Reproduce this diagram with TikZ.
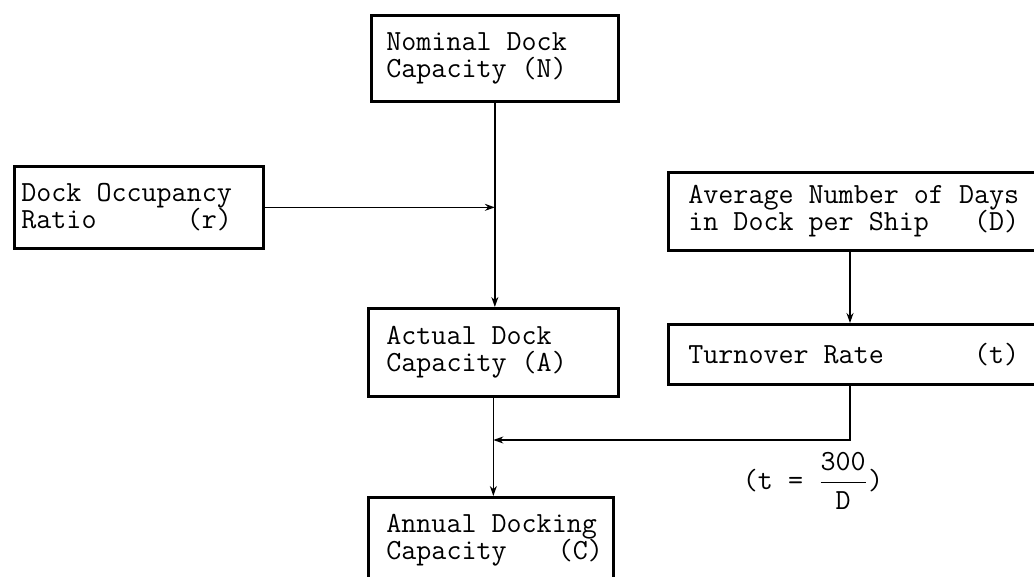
\documentclass[tikz,border=0pt]{standalone}
\usepackage{amsmath}
\usepackage{fontspec}
\setmonofont{Latin Modern Mono}[WordSpace={1,0,0}]
\usetikzlibrary{arrows.meta}

\newcommand{\typed}{\fontsize{14.6}{13.5}\selectfont\ttfamily}
\newcommand{\gap}{\kern\fontcharwd\font`M\relax}
\newcommand{\tagrow}[3]{\makebox[#1\fontcharwd\font`M][l]{#2\hfill#3}}
\tikzstyle{capbox}=[shape=rectangle, draw, line width=1.35pt, anchor=north west, align=left, inner ysep=0pt, font=\typed]
\tikzstyle{flow}=[line width=0.75pt, -{Stealth[length=5pt,width=3.5pt]}]

\begin{document}
\begin{tikzpicture}[x=0.5pt,y=-0.5pt]
        \path[use as bounding box, clip] (0,0) rectangle (1034,577);
        \node[capbox, text width=108.5pt, inner xsep=7.5pt, minimum height=43pt] at (370,14) (nominal) {Nominal\gap Dock\\Capacity\gap (N)};
        \node[capbox, text width=117.5pt, inner xsep=3.5pt, minimum height=41pt] at (13,165) (occupancy) {Dock\gap Occupancy\\\tagrow{14}{Ratio}{(r)}};
        \node[capbox, text width=107pt, inner xsep=9pt, minimum height=44pt] at (367,307) (actual) {Actual\gap Dock\\Capacity\gap (A)};
        \node[capbox, text width=180pt, inner xsep=10pt, minimum height=39pt] at (667,171) (average) {Average\gap Number\gap of\gap Days\\\tagrow{22}{in\gap Dock\gap per\gap Ship}{(D)}};
        \node[capbox, text width=180pt, inner xsep=10pt, minimum height=30pt] at (667,323) (turnover) {\tagrow{22}{Turnover\gap Rate}{(t)}};
        \node[capbox, text width=104.5pt, inner xsep=9pt, inner ysep=8.5pt, text depth=40pt] at (367,496) (annual) {Annual\gap Docking\\\tagrow{14.4}{Capacity}{(C)}};
        \node[font=\typed, inner sep=0pt] at (813,481) (rate) {(t\gap =\gap $\dfrac{\texttt{300}}{\texttt{D}}$)};
        \coordinate (tline) at (850,300);
        \coordinate (join) at (actual.south |- 0,440);
        \draw [flow] (nominal.south) -- (nominal.south |- actual.north);
        \draw [flow] (occupancy.east) -- (occupancy.east -| nominal.south);
        \draw [flow] (average.south -| tline) -- (turnover.north -| tline);
        \draw [flow] (turnover.south -| tline) |- (join);
        \draw [flow] (actual.south) -- (actual.south |- annual.north);
    \end{tikzpicture}
\end{document}
